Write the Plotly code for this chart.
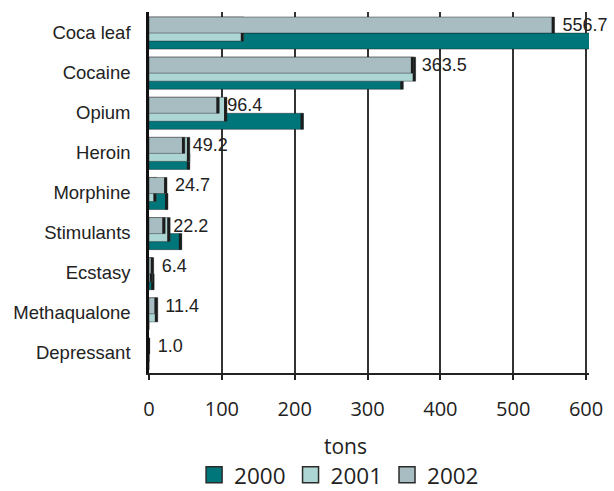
import plotly.graph_objects as go

categories = ["Coca leaf", "Cocaine", "Opium", "Heroin", "Morphine",
              "Stimulants", "Ecstasy", "Methaqualone", "Depressant"]
v2000 = [620, 349, 212, 56, 26, 45, 7, 0, 0]
v2001 = [130, 366, 107, 56, 10, 29, 5, 12, 0]
v2002 = [556.7, 363.5, 96.4, 49.2, 24.7, 22.2, 6.4, 11.4, 1.0]
labels2002 = ["556.7", "363.5", "96.4", "49.2", "24.7", "22.2", "6.4", "11.4", "1.0"]
x_ticks = [0, 100, 200, 300, 400, 500, 600]

colors = {"2000": "#00767b", "2001": "#acd5d4", "2002": "#a7bdc2"}
offsets = {"2000": (0.025, 0.40), "2001": (-0.375, 0.60), "2002": (-0.375, 0.40)}
CAP = 4.0
cap_color = "#1c1c1c"

fig = go.Figure()
series = [("2000", v2000), ("2001", v2001), ("2002", v2002)]
for name, vals in series:
    off, wid = offsets[name]
    kw = {}
    if name == "2002":
        kw = dict(text=["\u00a0" + t for t in labels2002], textposition="outside",
                  textfont=dict(family="Liberation Sans, Arial", size=18, color="#222"),
                  constraintext="none", cliponaxis=False)
    fig.add_trace(go.Bar(
        y=categories, x=vals, name=name, orientation="h",
        offset=off, width=wid, showlegend=False,
        marker=dict(color=colors[name], line=dict(color="rgba(30,30,30,0.55)", width=0.8)),
        **kw))
    caps = [min(CAP, v) for v in vals]
    bases = [v - c for v, c in zip(vals, caps)]
    fig.add_trace(go.Bar(
        y=categories, x=caps, base=bases, orientation="h",
        offset=off, width=wid, showlegend=False, hoverinfo="skip",
        marker=dict(color=cap_color, line=dict(width=0))))

# legend entries (square swatches)
for name, _ in series:
    fig.add_trace(go.Scatter(
        x=[None], y=[None], mode="markers", name=name,
        marker=dict(symbol="square", size=16, color=colors[name],
                    line=dict(color="#2a2a2a", width=1.5))))

fig.update_layout(
    barmode="overlay",
    width=614, height=491,
    margin=dict(l=149, r=25, t=12, b=118, autoexpand=False),
    paper_bgcolor="white", plot_bgcolor="white",
    font=dict(family="Open Sans", color="#222"),
    showlegend=True,
    legend=dict(orientation="h", x=0.432, xanchor="center", y=-0.283, yanchor="middle",
                font=dict(family="Open Sans", size=22.5, color="#222"),
                traceorder="normal", itemwidth=30),
    annotations=[dict(text="tons", xref="paper", yref="paper", x=0.447, y=-0.202,
                      xanchor="center", yanchor="middle", showarrow=False,
                      font=dict(family="Open Sans", size=21, color="#222"))],
)
fig.update_xaxes(range=[0, 604], tickvals=x_ticks, ticktext=[str(t) for t in x_ticks],
                 automargin=False,
                 showgrid=True, gridcolor="#333333", gridwidth=1.8,
                 zeroline=False, showline=True, linecolor="#222", linewidth=2,
                 ticks="outside", ticklen=5, tickcolor="#222", tickwidth=1.6,
                 ticklabelstandoff=12,
                 tickfont=dict(family="Open Sans", size=20, color="#222"))
fig.update_yaxes(categoryorder="array", categoryarray=categories, autorange="reversed",
                 automargin=False,
                 showgrid=False, zeroline=False, showline=True, linecolor="#111", linewidth=2.5,
                 ticks="", ticklabelstandoff=12,
                 tickfont=dict(family="Liberation Sans, Arial", size=18.5, color="#222"))

fig.write_html("out.html", config={"displayModeBar": False},
               post_script="document.body.style.margin='0';document.body.style.overflow='hidden';")
